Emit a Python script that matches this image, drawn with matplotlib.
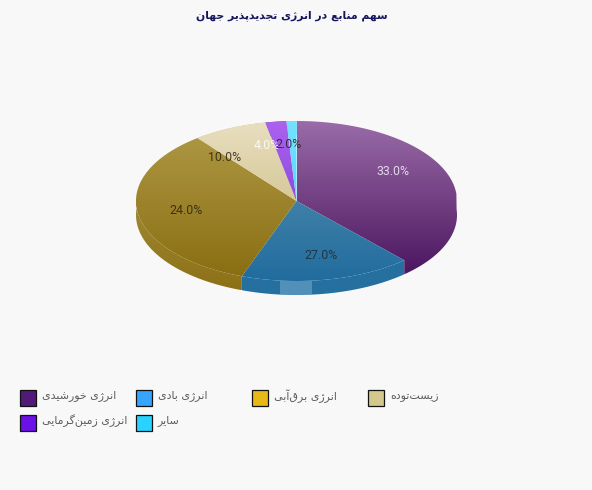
import numpy as np
import matplotlib
matplotlib.use("Agg")
import matplotlib.pyplot as plt
from matplotlib.patches import Polygon, Rectangle
from matplotlib.colors import LinearSegmentedColormap

title = "سهم منابع در انرژی تجدیدپذیر جهان"
categories = ["انرژی خورشیدی", "انرژی بادی", "انرژی برق‌آبی", "زیست‌توده", "انرژی زمین‌گرمایی", "سایر"]
values = [33.0, 27.0, 24.0, 10.0, 4.0, 2.0]
legend_colors = ["#521a78", "#36a5ff", "#e8b818", "#d2c88e", "#6a10e8", "#28d4ff"]
top_colors = ["#9a6ca8", "#3f80a8", "#ad9642", "#e8dfc0", "#ac62ee", "#74e2ff"]
bottom_colors = ["#4c1660", "#216c9e", "#8a6e12", "#d6c898", "#8c4cdc", "#58d8ff"]
wall_top_colors = ["#6a3a80", "#25709f", "#a08a34", "#cfc08a", "#7a40c8", "#40c8f0"]
wall_bottom_colors = ["#4a1660", "#25709f", "#8c7016", "#cfc08a", "#7a40c8", "#40c8f0"]
merged_wall = [True, False, False, False, False, False]
label_colors = ["#f4f0f8", "#222a33", "#2a2410", "#2a2410", "white", "#222222"]
label_pos = [(393, 171), (321, 255), (186, 210), (225, 157), (267, 145), (289, 144)]

FORMS = {
    "ا": (0xFE8D, 0xFE8E), "آ": (0xFE81, 0xFE82), "د": (0xFEA9, 0xFEAA), "ذ": (0xFEAB, 0xFEAC),
    "ر": (0xFEAD, 0xFEAE), "ز": (0xFEAF, 0xFEB0), "ژ": (0xFB8A, 0xFB8B), "و": (0xFEED, 0xFEEE),
    "ب": (0xFE8F, 0xFE90, 0xFE91, 0xFE92), "پ": (0xFB56, 0xFB57, 0xFB58, 0xFB59),
    "ت": (0xFE95, 0xFE96, 0xFE97, 0xFE98), "ج": (0xFE9D, 0xFE9E, 0xFE9F, 0xFEA0),
    "خ": (0xFEA5, 0xFEA6, 0xFEA7, 0xFEA8), "س": (0xFEB1, 0xFEB2, 0xFEB3, 0xFEB4),
    "ش": (0xFEB5, 0xFEB6, 0xFEB7, 0xFEB8), "ع": (0xFEC9, 0xFECA, 0xFECB, 0xFECC),
    "ق": (0xFED5, 0xFED6, 0xFED7, 0xFED8), "م": (0xFEE1, 0xFEE2, 0xFEE3, 0xFEE4),
    "ن": (0xFEE5, 0xFEE6, 0xFEE7, 0xFEE8), "ه": (0xFEE9, 0xFEEA, 0xFEEB, 0xFEEC),
    "ی": (0xFBFC, 0xFBFD, 0xFBFE, 0xFBFF), "گ": (0xFB92, 0xFB93, 0xFB94, 0xFB95),
}


def shape(text):
    out = []
    n = len(text)
    for i, c in enumerate(text):
        if c not in FORMS:
            if c != "\u200c":
                out.append(c)
            continue
        prev = text[i - 1] if i > 0 else ""
        nxt = text[i + 1] if i < n - 1 else ""
        j_prev = prev in FORMS and len(FORMS[prev]) == 4
        j_next = nxt in FORMS and len(FORMS[c]) == 4
        f = FORMS[c]
        if len(f) == 2:
            out.append(chr(f[1] if j_prev else f[0]))
        elif j_prev and j_next:
            out.append(chr(f[3]))
        elif j_prev:
            out.append(chr(f[1]))
        elif j_next:
            out.append(chr(f[2]))
        else:
            out.append(chr(f[0]))
    return "".join(reversed(out))


BG = "#f8f8f8"
fig = plt.figure(figsize=(5.92, 4.9), dpi=100, facecolor=BG)
ax = fig.add_axes([0, 0, 1, 1])
ax.set_facecolor(BG)
ax.axis("off")

cx, cy, rx, ry, depth = 296.5, 201.0, 160.5, 80.0, 14.0


def rim(theta):
    """Point on the ellipse along the screen direction theta (clockwise from top)."""
    dx, dy = np.sin(theta), -np.cos(theta)
    k = 1.0 / np.sqrt((dx / rx) ** 2 + (dy / ry) ** 2)
    return cx + k * dx, cy + k * dy


def gradient(pts, clip, c0, c1, z):
    cmap = LinearSegmentedColormap.from_list("g", [c0, c1])
    im = ax.imshow(np.linspace(0, 1, 256).reshape(-1, 1), cmap=cmap, aspect="auto",
                   extent=(pts[:, 0].min(), pts[:, 0].max(), pts[:, 1].max(), pts[:, 1].min()),
                   zorder=z, interpolation="bilinear")
    im.set_clip_path(clip)


edges = np.radians(np.concatenate([[0], np.cumsum(values)]) * 3.6)

for i in range(len(values)):
    if merged_wall[i]:
        continue
    th = np.linspace(edges[i], edges[i + 1], 120)
    x, y = rim(th)
    wall = np.column_stack([np.r_[x, x[::-1]], np.r_[y, y[::-1] + depth]])
    front = wall[wall[:, 1] >= cy]
    poly = Polygon(wall, closed=True, fc="none", ec="none", zorder=2)
    ax.add_patch(poly)
    gradient(front if len(front) else wall, poly, wall_top_colors[i], wall_bottom_colors[i], 2)

# light strip on the wall of the blue slice
ax.add_patch(Rectangle((280, cy + ry), 32, depth - 0.5, fc="#6fa6cc", ec="none", alpha=0.6, zorder=3))

for i in range(len(values)):
    th = np.linspace(edges[i], edges[i + 1], 240)
    x, y = rim(th)
    if merged_wall[i]:
        # top face and wall share one outline, so the gradient runs through both
        lx, ly = x, y + depth
        outside = np.hypot((lx - cx) / rx, (ly - cy) / ry) >= 1.0
        first = int(np.argmax(outside))
        outline = np.column_stack([
            np.r_[cx, x[:first], lx[first:], x[-1]],
            np.r_[cy, y[:first], ly[first:], y[-1]],
        ])
    else:
        outline = np.column_stack([np.r_[cx, x], np.r_[cy, y]])
    poly = Polygon(outline, closed=True, fc="none", ec="none", zorder=4)
    ax.add_patch(poly)
    gradient(outline, poly, top_colors[i], bottom_colors[i], 4)

for v, (tx, ty), c in zip(values, label_pos, label_colors):
    ax.text(tx, ty, f"{v:.1f}%", ha="center", va="center", fontsize=8.9, family="Roboto",
            color=c, alpha=0.85, zorder=6)

ax.text(291.5, 15.5, shape(title), ha="center", va="center", fontsize=7.8, fontweight="bold",
        family="DejaVu Sans", color="#16165f", zorder=6)

# legend
box_x = [20, 136, 252, 368, 20, 136]
box_y = [390, 390, 390, 390, 415, 415]
for name, col, bx, by in zip(categories, legend_colors, box_x, box_y):
    ax.add_patch(Rectangle((bx, by), 15.5, 15.5, fc=col, ec="#111111", lw=0.9, zorder=5))
    ax.text(bx + 22, by + 6.0, shape(name), ha="left", va="center", fontsize=7.9,
            family="DejaVu Sans", color="#5c5c5c", zorder=6)

ax.set_xlim(0, 592)
ax.set_ylim(490, 0)
fig.savefig("out.png", dpi=100, facecolor=BG)
